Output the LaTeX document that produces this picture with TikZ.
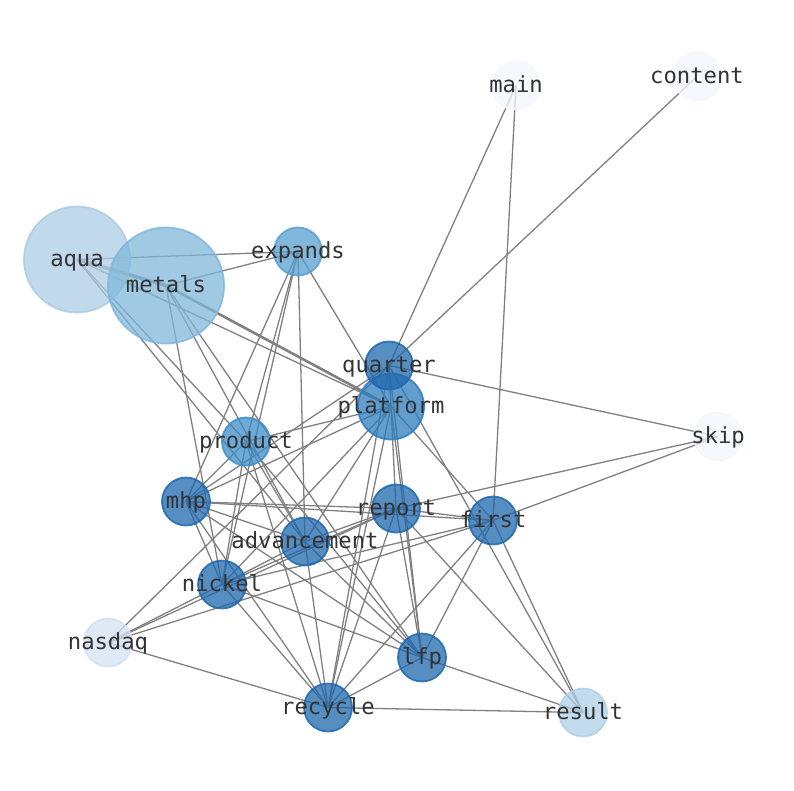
\documentclass[tikz,border=0pt]{standalone}
\usepackage{fontspec}
\setmonofont{DejaVu Sans Mono}
\usetikzlibrary{backgrounds}
\definecolor{ecol}{RGB}{128,128,128}
\definecolor{tcol}{RGB}{51,51,51}
\definecolor{cdark}{RGB}{31,104,174}
\definecolor{cplat}{RGB}{45,124,189}
\definecolor{cprod}{RGB}{61,141,200}
\definecolor{cexp}{RGB}{88,159,208}
\definecolor{cmet}{RGB}{128,184,219}
\definecolor{caqua}{RGB}{171,205,228}
\definecolor{cres}{RGB}{175,208,231}
\definecolor{cnas}{RGB}{211,225,241}
\definecolor{cpale}{RGB}{242,247,253}
\begin{document}
\begin{tikzpicture}[x=1pt,y=-1pt,
  vtx/.style={circle,inner sep=0pt,minimum size=48pt,line width=1.8pt,fill opacity=0.75,draw opacity=0.85},
  lbl/.style={font=\fontsize{22.2}{26}\selectfont\ttfamily,text=tcol,inner sep=0pt,text height=16.9pt,text depth=5.2pt,yshift=-1.5pt},
  link/.style={draw=ecol,line width=1.3pt},
  heavy/.style={draw=ecol,line width=3.5pt,draw opacity=0.9},
  mid/.style={draw=ecol,line width=2.6pt}]
\useasboundingbox (0,0) rectangle (794,790);
% nodes
\node[vtx,fill=cpale,draw=cpale] (main) at (516,85.5) {};
\node[vtx,fill=cpale,draw=cpale] (content) at (697,76.5) {};
\node[vtx,fill=caqua,draw=caqua,minimum size=106pt] (aqua) at (77,259.5) {};
\node[vtx,fill=cmet,draw=cmet,minimum size=116pt] (metals) at (166,285.5) {};
\node[vtx,fill=cexp,draw=cexp] (expands) at (298,251.5) {};
\node[vtx,fill=cplat,draw=cplat,minimum size=66pt] (platform) at (391,406.5) {};
\node[vtx,fill=cdark,draw=cdark] (quarter) at (389,365.5) {};
\node[vtx,fill=cprod,draw=cprod] (product) at (246,441.5) {};
\node[vtx,fill=cpale,draw=cpale] (skip) at (718,436.5) {};
\node[vtx,fill=cdark,draw=cdark] (mhp) at (186,501.5) {};
\node[vtx,fill=cdark,draw=cdark] (report) at (396,508.5) {};
\node[vtx,fill=cdark,draw=cdark] (first) at (493,520.5) {};
\node[vtx,fill=cdark,draw=cdark] (advancement) at (305,541.5) {};
\node[vtx,fill=cdark,draw=cdark] (nickel) at (222,584.5) {};
\node[vtx,fill=cnas,draw=cnas] (nasdaq) at (108,642.5) {};
\node[vtx,fill=cdark,draw=cdark] (lfp) at (422,657.5) {};
\node[vtx,fill=cdark,draw=cdark] (recycle) at (328,707.5) {};
\node[vtx,fill=cres,draw=cres] (result) at (583,712.5) {};
% edges
\begin{scope}[on background layer]
\foreach \a/\b in {main/quarter, main/first, content/quarter,
  skip/quarter, skip/report, skip/first,
  aqua/expands, aqua/platform, aqua/product, aqua/advancement,
  metals/expands, metals/nickel, metals/advancement, metals/lfp,
  expands/platform, expands/advancement, expands/mhp, expands/nickel, expands/product,
  product/platform, product/mhp, product/nickel, product/advancement, product/lfp, product/recycle,
  quarter/platform, quarter/mhp, quarter/nasdaq, quarter/lfp, quarter/recycle, quarter/result,
  platform/mhp, platform/nickel, platform/advancement, platform/report, platform/lfp, platform/recycle, platform/first,
  mhp/report, mhp/first, mhp/advancement, mhp/nickel, mhp/lfp, mhp/recycle,
  report/first, report/nickel, report/advancement, report/lfp, report/recycle, report/result, report/nasdaq,
  first/nickel, first/nasdaq, first/lfp, first/recycle, first/result,
  advancement/nickel, advancement/recycle, advancement/lfp,
  nickel/recycle, nickel/lfp, nickel/nasdaq,
  nasdaq/recycle, lfp/recycle, lfp/result, recycle/result}
  \draw[link] (\a.center) -- (\b.center);
\draw[heavy] (aqua.center) -- (metals.center);
\draw[mid] (metals.center) -- (platform.center);
\end{scope}
% labels
\foreach \n in {main,content,aqua,metals,expands,platform,quarter,product,skip,mhp,report,first,advancement,nickel,nasdaq,lfp,recycle,result}
  \node[lbl] (\n-t) at (\n.center) {\n};
\end{tikzpicture}
\end{document}
